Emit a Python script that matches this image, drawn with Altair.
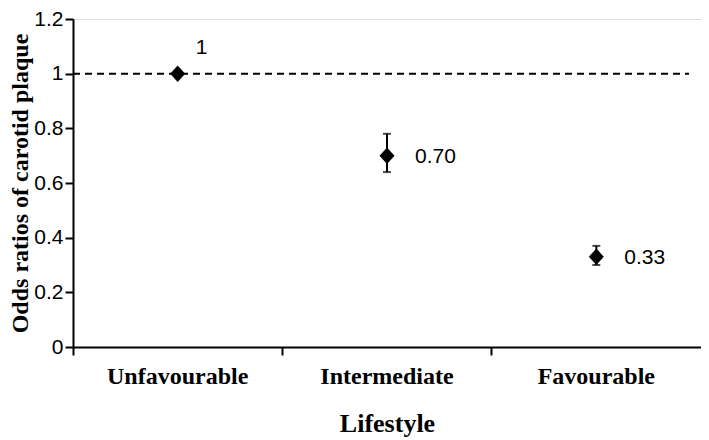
import altair as alt
import pandas as pd

categories = ["Unfavourable", "Intermediate", "Favourable"]
odds = [1.0, 0.70, 0.33]
ci_low = [None, 0.64, 0.30]
ci_high = [None, 0.78, 0.37]
labels = ["1", "0.70", "0.33"]
ref_value = [1.0]
y_ticks = [0, 0.2, 0.4, 0.6, 0.8, 1.0, 1.2]

df = pd.DataFrame({"cat": categories, "or": odds, "lo": ci_low, "hi": ci_high, "lab": labels})
ref = pd.DataFrame({"v": ref_value})

xscale = alt.Scale(domain=categories, paddingInner=0, paddingOuter=0)
yscale = alt.Scale(domain=[0, 1.2], nice=False)

x_enc = alt.X("cat:N", scale=xscale, sort=categories,
              axis=alt.Axis(title="Lifestyle", bandPosition=0,
                            labelAngle=0, labelFont="Liberation Serif", labelFontWeight="bold",
                            labelFontSize=24, labelColor="black", labelPadding=9,
                            tickSize=8, tickColor="black", tickWidth=2,
                            domainColor="black", domainWidth=2,
                            titleFont="Liberation Serif", titleFontWeight="bold",
                            titleFontSize=26, titleColor="black", titlePadding=22))
y_enc = alt.Y("or:Q", scale=yscale,
              axis=alt.Axis(title="Odds ratios of carotid plaque", values=y_ticks, format="~g",
                            grid=False, labelFont="Liberation Sans", labelFontSize=21,
                            labelColor="black", labelPadding=2,
                            tickSize=8, tickColor="black", tickWidth=2,
                            domainColor="black", domainWidth=2,
                            titleFont="Liberation Serif", titleFontWeight="bold",
                            titleFontSize=24, titleColor="black", titlePadding=1))

base = alt.Chart(df)

refline = alt.Chart(ref).mark_rule(color="black", strokeWidth=2, strokeDash=[7, 5]).encode(
    y=alt.Y("v:Q", scale=yscale), x=alt.value(0), x2=alt.value(616))

bars = base.transform_filter("datum.lo != null").mark_rule(color="black", strokeWidth=2).encode(
    x=x_enc, y=alt.Y("lo:Q", scale=yscale), y2="hi:Q")
cap_lo = base.transform_filter("datum.lo != null").mark_tick(color="black", orient="horizontal", size=8, thickness=2).encode(
    x=alt.X("cat:N", scale=xscale, sort=categories), y=alt.Y("lo:Q", scale=yscale))
cap_hi = base.transform_filter("datum.lo != null").mark_tick(color="black", orient="horizontal", size=8, thickness=2).encode(
    x=alt.X("cat:N", scale=xscale, sort=categories), y=alt.Y("hi:Q", scale=yscale))

pts = base.mark_point(shape="M-1,0L0,-1.1L1,0L0,1.1Z", filled=True, color="black", size=225, opacity=1).encode(
    x=x_enc, y=y_enc)

txt_first = base.transform_filter("datum.lab == '1'").mark_text(
    align="center", baseline="middle", dx=24, dy=-26, font="Liberation Sans", fontSize=21, color="black").encode(
    x=alt.X("cat:N", scale=xscale, sort=categories), y=alt.Y("or:Q", scale=yscale), text="lab:N")
txt_rest = base.transform_filter("datum.lab != '1'").mark_text(
    align="left", baseline="middle", dx=28, dy=1, font="Liberation Sans", fontSize=21, color="black").encode(
    x=alt.X("cat:N", scale=xscale, sort=categories), y=alt.Y("or:Q", scale=yscale), text="lab:N")

chart = alt.layer(refline, bars, cap_lo, cap_hi, pts, txt_first, txt_rest).properties(
    width=628, height=328,
    autosize=alt.AutoSizeParams(type="none"),
    padding={"left": 65, "top": 11, "right": 0, "bottom": 91},
).configure_view(stroke=None).configure(background="white")

chart.save("out.html", embed_options={"renderer": "svg", "actions": False})
